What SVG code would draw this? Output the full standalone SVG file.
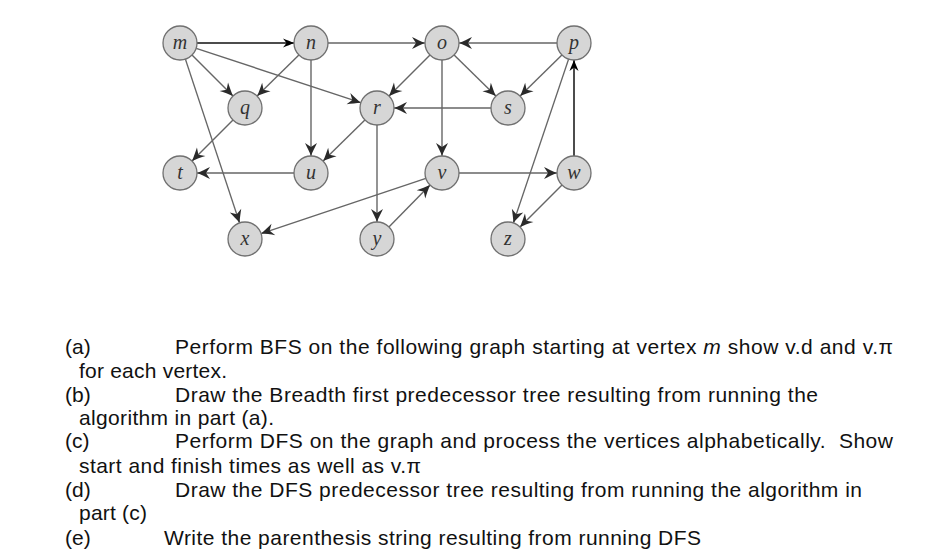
<svg xmlns="http://www.w3.org/2000/svg" width="927" height="560" viewBox="0 0 927 560">
<style>
.node circle{fill:#d6d6d6;stroke:#707070;stroke-width:1.3}
.node text{font-family:"Liberation Serif",serif;font-style:italic;font-size:20px;fill:#333;text-anchor:middle}
.e{stroke:#666;stroke-width:1.4;fill:none;marker-end:url(#ah)}
.b{stroke:#111;stroke-width:1.5;fill:none;marker-end:url(#bh)}
.t{font-family:"Liberation Sans",Arial,sans-serif;font-size:21px;fill:#111}
</style>
<defs>
<marker id="ah" viewBox="-14 -7 15 14" refX="0" refY="0" markerWidth="15" markerHeight="14" markerUnits="userSpaceOnUse" orient="auto">
<path d="M0,0 C-4,-1.5 -9,-4 -13,-6 L-9,0 L-13,6 C-9,4 -4,1.5 0,0 Z" fill="#2a2a2a"/>
</marker>
<marker id="bh" viewBox="-12 -6 13 12" refX="0" refY="0" markerWidth="13" markerHeight="12" markerUnits="userSpaceOnUse" orient="auto">
<path d="M0,0 C-3,-1.2 -7,-3 -11,-4.5 L-7.5,0 L-11,4.5 C-7,3 -3,1.2 0,0 Z" fill="#000"/>
</marker>
</defs>
<rect width="927" height="560" fill="#fff"/>
<g id="connectors">
<line class="b" x1="197" y1="43" x2="294" y2="43"/>
<line class="e" x1="192" y1="55" x2="233" y2="96"/>
<line class="e" x1="196.2" y1="48.3" x2="360.8" y2="102.7"/>
<line class="e" x1="185.4" y1="59.1" x2="239.6" y2="222.9"/>
<line class="e" x1="298.9" y1="54.9" x2="257.1" y2="96.1"/>
<line class="e" x1="311" y1="60" x2="311" y2="156"/>
<line class="e" x1="328" y1="43" x2="425" y2="43"/>
<line class="e" x1="430" y1="55" x2="389" y2="96"/>
<line class="e" x1="454.1" y1="54.9" x2="495.9" y2="96.1"/>
<line class="e" x1="442" y1="60" x2="442" y2="156"/>
<line class="e" x1="557" y1="43" x2="459" y2="43"/>
<line class="e" x1="561.9" y1="54.9" x2="520.1" y2="96.1"/>
<line class="e" x1="568.6" y1="59.1" x2="513.4" y2="222.9"/>
<line class="e" x1="491" y1="108" x2="394" y2="108"/>
<line class="e" x1="233" y1="120" x2="192" y2="161"/>
<line class="e" x1="364.9" y1="119.9" x2="323.1" y2="161.1"/>
<line class="e" x1="377" y1="125" x2="377" y2="222"/>
<line class="e" x1="294" y1="173" x2="197" y2="173"/>
<line class="e" x1="425.9" y1="178.4" x2="261.1" y2="233.6"/>
<line class="e" x1="459" y1="173" x2="557" y2="173"/>
<line class="e" x1="388.9" y1="226.9" x2="430.1" y2="185.1"/>
<line class="e" x1="562" y1="185" x2="520" y2="227"/>
<line class="b" x1="574" y1="156" x2="574" y2="60"/>
</g>
<g id="node-m" class="node"><circle cx="180" cy="43" r="17"/><text x="180" y="49">m</text></g>
<g id="node-n" class="node"><circle cx="311" cy="43" r="17"/><text x="311" y="49">n</text></g>
<g id="node-o" class="node"><circle cx="442" cy="43" r="17"/><text x="442" y="49">o</text></g>
<g id="node-p" class="node"><circle cx="574" cy="43" r="17"/><text x="574" y="49">p</text></g>
<g id="node-q" class="node"><circle cx="245" cy="108" r="17"/><text x="245" y="114">q</text></g>
<g id="node-r" class="node"><circle cx="377" cy="108" r="17"/><text x="377" y="114">r</text></g>
<g id="node-s" class="node"><circle cx="508" cy="108" r="17"/><text x="508" y="114">s</text></g>
<g id="node-t" class="node"><circle cx="180" cy="173" r="17"/><text x="180" y="179">t</text></g>
<g id="node-u" class="node"><circle cx="311" cy="173" r="17"/><text x="311" y="179">u</text></g>
<g id="node-v" class="node"><circle cx="442" cy="173" r="17"/><text x="442" y="179">v</text></g>
<g id="node-w" class="node"><circle cx="574" cy="173" r="17"/><text x="574" y="179">w</text></g>
<g id="node-x" class="node"><circle cx="245" cy="239" r="17"/><text x="245" y="245">x</text></g>
<g id="node-y" class="node"><circle cx="377" cy="239" r="17"/><text x="377" y="245">y</text></g>
<g id="node-z" class="node"><circle cx="508" cy="239" r="17"/><text x="508" y="245">z</text></g>
<g id="text">
<text class="t" x="65" y="354">(a)</text>
<text class="t" x="175" y="354" textLength="718" lengthAdjust="spacing">Perform BFS on the following graph starting at vertex <tspan font-style="italic">m</tspan> show v.d and v.π</text>
<text class="t" x="79" y="378" textLength="148" lengthAdjust="spacing">for each vertex.</text>
<text class="t" x="65" y="402">(b)</text>
<text class="t" x="175" y="402" textLength="643" lengthAdjust="spacing">Draw the Breadth first predecessor tree resulting from running the</text>
<text class="t" x="79" y="425" textLength="195" lengthAdjust="spacing">algorithm in part (a).</text>
<text class="t" x="65" y="448">(c)</text>
<text class="t" x="175" y="448" textLength="718" lengthAdjust="spacing">Perform DFS on the graph and process the vertices alphabetically.&#160; Show</text>
<text class="t" x="79" y="473" textLength="342" lengthAdjust="spacing">start and finish times as well as v.π</text>
<text class="t" x="65" y="497">(d)</text>
<text class="t" x="175" y="497" textLength="687" lengthAdjust="spacing">Draw the DFS predecessor tree resulting from running the algorithm in</text>
<text class="t" x="79" y="520" textLength="68" lengthAdjust="spacing">part (c)</text>
<text class="t" x="65" y="545">(e)</text>
<text class="t" x="164" y="545" textLength="537" lengthAdjust="spacing">Write the parenthesis string resulting from running DFS</text>
</g>
</svg>
